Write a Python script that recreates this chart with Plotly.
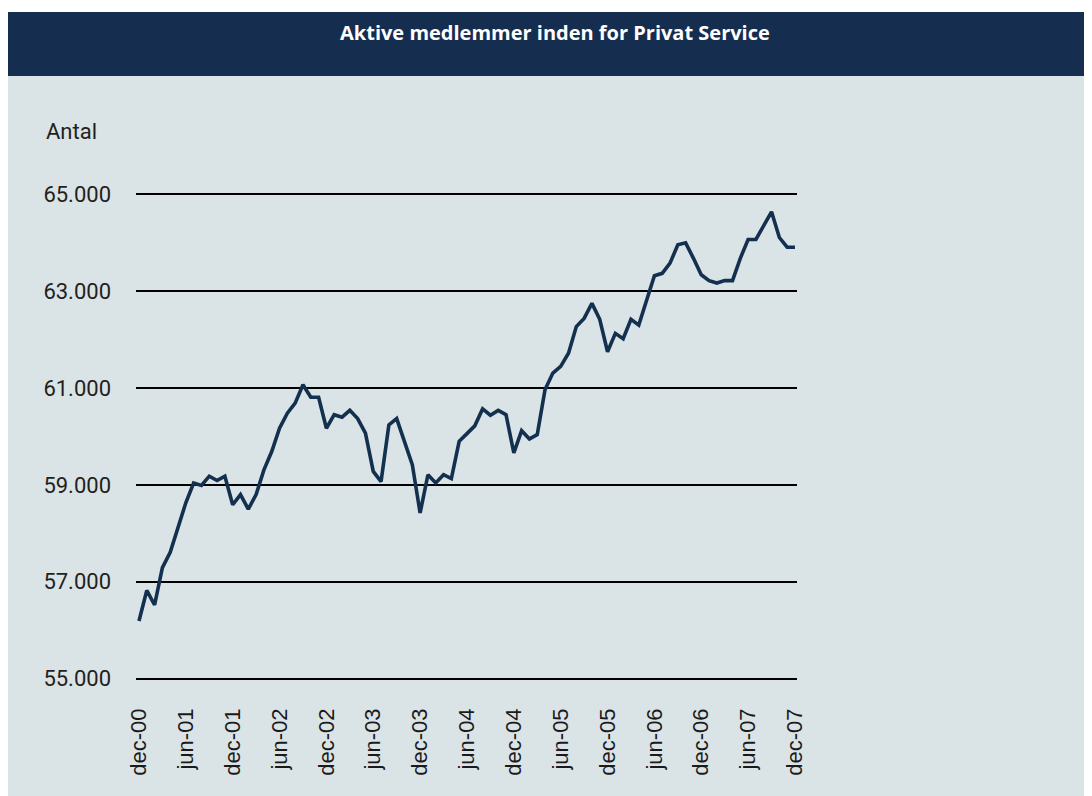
import plotly.graph_objects as go

# ---- data ----
month_names = ["jan", "feb", "mar", "apr", "maj", "jun", "jul", "aug", "sep", "okt", "nov", "dec"]
months = ["dec-00"] + [f"{m}-{y:02d}" for y in range(1, 8) for m in month_names]

members = [
    56190, 56820, 56520, 57290, 57610, 58110, 58630, 59040, 58990, 59180, 59090, 59180,
    58590, 58800, 58500, 58800, 59310, 59690, 60170, 60480, 60690, 61070, 60810, 60810,
    60170, 60450, 60400, 60540, 60370, 60070, 59280, 59070, 60240, 60370, 59900, 59420,
    58420, 59210, 59040, 59210, 59130, 59900, 60060, 60220, 60570, 60440, 60540, 60450,
    59660, 60120, 59950, 60040, 60970, 61310, 61450, 61720, 62270, 62440, 62750, 62420,
    61750, 62130, 62020, 62420, 62300, 62820, 63320, 63370, 63580, 63960, 64000, 63680,
    63340, 63220, 63170, 63220, 63220, 63680, 64070, 64070, 64370, 64640, 64110, 63910,
    63910,
]

x_tick_labels = ["dec-00", "jun-01", "dec-01", "jun-02", "dec-02", "jun-03", "dec-03",
                 "jun-04", "dec-04", "jun-05", "dec-05", "jun-06", "dec-06", "jun-07", "dec-07"]
y_tick_vals = [55000, 57000, 59000, 61000, 63000, 65000]
y_tick_text = ["55.000", "57.000", "59.000", "61.000", "63.000", "65.000"]

title_text = "Aktive medlemmer inden for Privat Service"
y_axis_label = "Antal"

# ---- layout geometry (figure pixel coords; page adds an 8px body margin) ----
W, H = 1092, 796
L, T, R, B = 128, 184, 303, 123
PW, PH = W - L - R, H - T - B

def px_x(px):
    return (px - L) / PW

def px_y(py):
    return (H - B - py) / PH

NAVY = "#152D4F"
BG = "#DAE3E6"
LINE = "#14304F"

fig = go.Figure()
fig.add_trace(go.Scatter(
    x=months, y=members, mode="lines",
    line=dict(color=LINE, width=3.6),
    hoverinfo="x+y", showlegend=False,
))

fig.update_layout(
    width=W, height=H,
    margin=dict(l=L, r=R, t=T, b=B, pad=0),
    paper_bgcolor=BG, plot_bgcolor="rgba(0,0,0,0)",
    showlegend=False,
    xaxis=dict(
        type="category", range=[-0.38, 84.26],
        tickmode="array", tickvals=x_tick_labels, ticktext=x_tick_labels,
        tickangle=-90, showgrid=False, zeroline=False, showline=False, ticks="",
        tickfont=dict(family="Liberation Sans, Arial, sans-serif", size=22, color="#1a1a1a"),
        ticklabelstandoff=22,
    ),
    yaxis=dict(
        range=[54950, 65050],
        tickmode="array", tickvals=y_tick_vals, ticktext=y_tick_text,
        showgrid=True, gridcolor="#000000", gridwidth=1.6,
        zeroline=False, showline=False, ticks="",
        tickfont=dict(family="Roboto, sans-serif", size=22, color="#231F20"),
        ticklabelstandoff=24,
    ),
    shapes=[
        dict(type="rect", xref="paper", yref="paper", layer="below",
             x0=px_x(0), x1=px_x(W), y0=px_y(4), y1=px_y(0),
             fillcolor="#FFFFFF", line=dict(width=0)),
        dict(type="rect", xref="paper", yref="paper", layer="below",
             x0=px_x(0), x1=px_x(W), y0=px_y(68), y1=px_y(4),
             fillcolor=NAVY, line=dict(width=0)),
    ],
    annotations=[
        dict(text=f"<b>{title_text}</b>", xref="paper", yref="paper",
             x=px_x(547), y=px_y(24), xanchor="center", yanchor="middle",
             showarrow=False, font=dict(family="Open Sans, sans-serif", size=20, color="#FFFFFF")),
        dict(text=y_axis_label, xref="paper", yref="paper",
             x=px_x(36), y=px_y(123), xanchor="left", yanchor="middle",
             showarrow=False, font=dict(family="Roboto, sans-serif", size=22, color="#231F20")),
    ],
)

fig.write_html("out.html")
